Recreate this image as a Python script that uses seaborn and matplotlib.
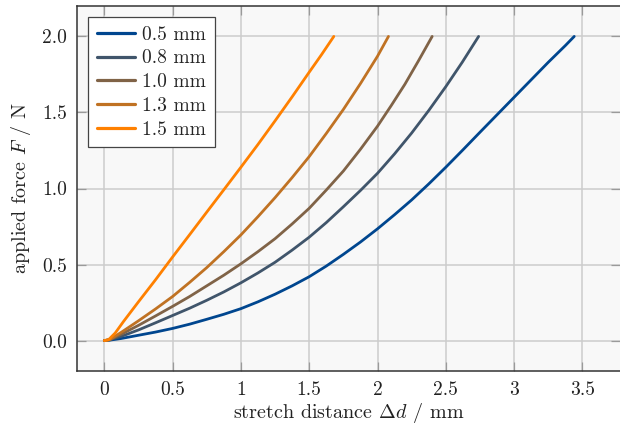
import numpy as np
import pandas as pd
import matplotlib
matplotlib.use("Agg")
import matplotlib.pyplot as plt
import seaborn as sns

# stretch distance (mm) and applied force (N)
thickness = ["0.5 mm", "0.8 mm", "1.0 mm", "1.3 mm", "1.5 mm"]

d_05 = [0, 0.04, 0.125, 0.25, 0.375, 0.5, 0.625, 0.75, 0.875, 1.0, 1.125, 1.25, 1.375, 1.5, 1.625,
        1.75, 1.875, 2.0, 2.125, 2.25, 2.375, 2.5, 2.625, 2.75, 2.875, 3.0, 3.125, 3.25, 3.375, 3.44]
f_05 = [0, 0.003, 0.014, 0.035, 0.056, 0.08, 0.108, 0.14, 0.173, 0.21, 0.255, 0.305, 0.36, 0.42, 0.49,
        0.567, 0.648, 0.735, 0.828, 0.925, 1.03, 1.14, 1.254, 1.37, 1.485, 1.6, 1.715, 1.83, 1.94, 2.0]

d_08 = [0, 0.04, 0.125, 0.25, 0.375, 0.5, 0.625, 0.75, 0.875, 1.0, 1.125, 1.25, 1.375, 1.5,
        1.625, 1.75, 1.875, 2.0, 2.125, 2.25, 2.375, 2.5, 2.62, 2.74]
f_08 = [0, 0.005, 0.028, 0.07, 0.117, 0.165, 0.213, 0.265, 0.32, 0.38, 0.445, 0.515, 0.595, 0.68,
        0.776, 0.88, 0.987, 1.1, 1.228, 1.365, 1.513, 1.67, 1.83, 2.0]

d_10 = [0, 0.04, 0.125, 0.25, 0.375, 0.5, 0.625, 0.75, 0.875, 1.0, 1.125, 1.25, 1.375, 1.5,
        1.625, 1.75, 1.875, 2.0, 2.1, 2.2, 2.3, 2.4]
f_10 = [0, 0.006, 0.042, 0.1, 0.162, 0.225, 0.29, 0.36, 0.43, 0.505, 0.585, 0.67, 0.767, 0.87,
        0.99, 1.115, 1.258, 1.41, 1.545, 1.685, 1.84, 2.0]

d_13 = [0, 0.04, 0.125, 0.25, 0.375, 0.5, 0.625, 0.75, 0.875, 1.0, 1.125, 1.25, 1.375, 1.5,
        1.625, 1.75, 1.875, 2.0, 2.08]
f_13 = [0, 0.007, 0.055, 0.13, 0.208, 0.29, 0.383, 0.48, 0.585, 0.695, 0.815, 0.94, 1.072, 1.21,
        1.362, 1.52, 1.69, 1.87, 2.0]

d_15 = [0, 0.03, 0.08, 0.14, 0.25, 0.375, 0.5, 0.625, 0.75, 0.875, 1.0, 1.125, 1.25, 1.375, 1.5, 1.59, 1.68]
f_15 = [0, 0.005, 0.05, 0.125, 0.255, 0.40, 0.55, 0.697, 0.845, 0.992, 1.14, 1.29, 1.445, 1.603, 1.765, 1.88, 2.0]

x_ticks = [0, 0.5, 1, 1.5, 2, 2.5, 3, 3.5]
x_labels = ["0", "0.5", "1", "1.5", "2", "2.5", "3", "3.5"]
y_ticks = [0, 0.5, 1.0, 1.5, 2.0]
y_labels = ["0.0", "0.5", "1.0", "1.5", "2.0"]

frames = []
for name, d, f in zip(thickness, [d_05, d_08, d_10, d_13, d_15], [f_05, f_08, f_10, f_13, f_15]):
    frames.append(pd.DataFrame({"d": d, "F": f, "thickness": name}))
df = pd.concat(frames, ignore_index=True)

sns.set_theme(style="ticks")
plt.rcParams["font.family"] = "serif"
plt.rcParams["font.serif"] = ["cmr10"]
plt.rcParams["mathtext.fontset"] = "cm"
plt.rcParams["axes.formatter.use_mathtext"] = True
plt.rcParams["axes.unicode_minus"] = False

palette = sns.blend_palette(["#00468f", "#ff8000"], 5)

fig = plt.figure(figsize=(6.2, 4.24), dpi=100)
ax = fig.add_axes([77 / 620, 53 / 424, 543 / 620, 365 / 424])
ax.set_facecolor("#f8f8f8")

sns.lineplot(data=df, x="d", y="F", hue="thickness", palette=palette,
             linewidth=2.0, sort=False, estimator=None, ax=ax)
for line in ax.get_lines():
    line.set_solid_joinstyle("round")

ax.set_xlim(-0.2, 3.775)
ax.set_ylim(-0.2, 2.2)
ax.set_xticks(x_ticks)
ax.set_xticklabels(x_labels)
ax.set_yticks(y_ticks)
ax.set_yticklabels(y_labels)
ax.grid(True, color="#cccccc", linewidth=1.1)
ax.set_axisbelow(True)
ax.tick_params(direction="in", length=6.5, width=0.9, color="#9a9a9a",
               top=True, right=True, labelsize=14, colors="#9a9a9a",
               labelcolor="#222222", pad=7)
for side in ["left", "bottom", "top"]:
    ax.spines[side].set_color("#333333")
    ax.spines[side].set_linewidth(1.1)
ax.spines["right"].set_visible(False)

ax.set_xlabel(r"stretch distance $\Delta d$ / mm", fontsize=14.5, color="#222222", labelpad=2)
ax.set_ylabel(r"applied force $F$ / N", fontsize=14.5, color="#222222", labelpad=7)

leg = ax.legend(loc="upper left", bbox_to_anchor=(0.02, 0.97), fontsize=14,
                frameon=True, fancybox=False, edgecolor="#444444",
                handlelength=1.95, handletextpad=0.4, borderpad=0.45,
                labelspacing=0.3, borderaxespad=0)
leg.get_frame().set_linewidth(0.9)
leg.get_frame().set_facecolor("white")
leg.get_frame().set_alpha(1)
for line in leg.get_lines():
    line.set_linewidth(2.3)

fig.savefig("out.png", dpi=100)
